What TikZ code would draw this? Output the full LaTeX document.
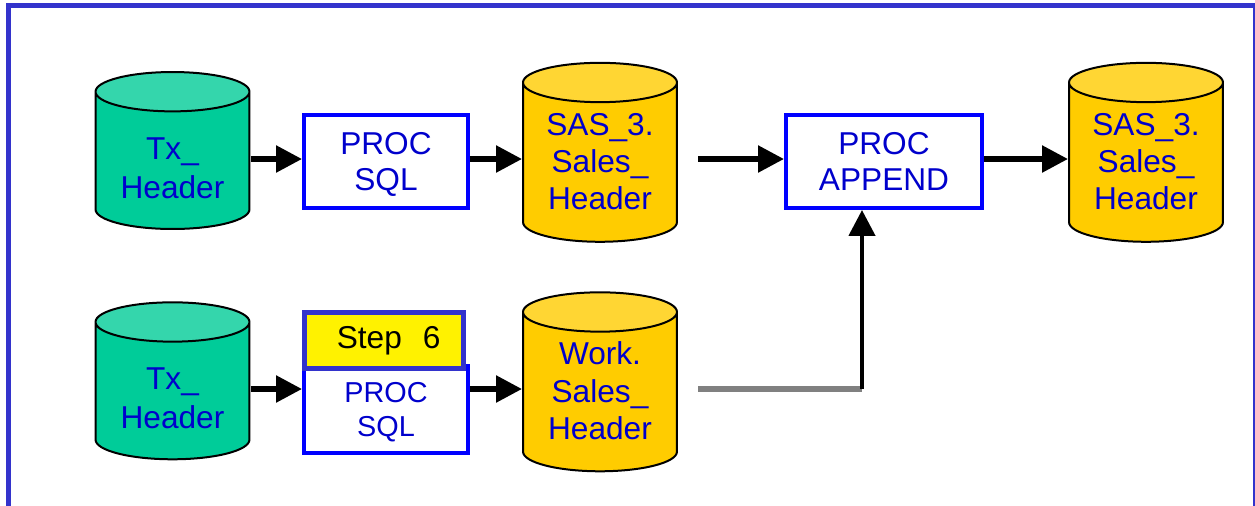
\documentclass[tikz,border=0pt]{standalone}
\usepackage{fontspec}
\setmainfont{Liberation Sans}
\usepackage{xcolor}
\usepackage{tikz}
\usetikzlibrary{shapes.geometric, arrows.meta, positioning}
\definecolor{frameblue}{RGB}{51,51,204}
\definecolor{boxblue}{RGB}{0,0,255}
\definecolor{textblue}{RGB}{0,0,204}
\definecolor{tealbody}{RGB}{0,204,153}
\definecolor{tealtop}{RGB}{52,214,172}
\definecolor{goldbody}{RGB}{255,204,0}
\definecolor{goldtop}{RGB}{255,214,51}
% the cap size follows the text width, so keep one even when empty
\tikzstyle{srcdb} = [cylinder, shape border rotate=90, aspect=0.34, text width=2.08cm, draw=black, line width=0.04cm, cylinder uses custom fill, cylinder body fill=tealbody, cylinder end fill=tealtop, minimum width=3.08cm, minimum height=3.14cm, anchor=shape center]
\tikzstyle{sasdb} = [srcdb, cylinder body fill=goldbody, cylinder end fill=goldtop, minimum height=3.58cm]
\tikzstyle{dbtext} = [inner sep=0pt, text=textblue, align=center, font=\fontsize{18}{22.3}\selectfont]
\tikzstyle{sastext} = [dbtext, font=\fontsize{18}{21.3}\selectfont]
\tikzstyle{proc} = [rectangle, draw=boxblue, line width=0.08cm, fill=white, minimum width=3.28cm, minimum height=1.86cm, text=textblue, align=center, text depth=0pt, font=\fontsize{18}{20.8}\selectfont]
\tikzstyle{steptag} = [rectangle, draw=frameblue, line width=0.1cm, fill=yellow, minimum width=3.18cm, minimum height=1.12cm, font=\fontsize{18}{20}\selectfont]
\tikzstyle{arrow} = [line width=0.11cm, -{Triangle[length=0.52cm,width=0.52cm]}]

\begin{document}
\begin{tikzpicture}[x=0.02cm, y=-0.02cm]
	\useasboundingbox (0,0) rectangle (1255,505);
	% outer frame, runs off the bottom
	\draw [frameblue, line width=0.1cm] (8.5,560) -- (8.5,5.5) -- (1255,5.5) -- (1255,560);

	\coordinate (upper) at (0,159);
	\coordinate (lower) at (0,389);
	\coordinate (join) at (862,389);

	% top row
	\node (tx1) [srcdb] at (172.5,150.5) {};
	\node (tx1-label) [dbtext, below=0.35cm of tx1.shape center, anchor=center] {Tx\_\\Header};
	\node (sql1) [proc] at (386,161.5) {PROC\\SQL};
	\node (sas1) [sasdb] at (600,152.3) {};
	\node (sas1-label) [sastext, below=0.186cm of sas1.shape center, anchor=center] {SAS\_3.\\Sales\_\\Header};
	\node (app) [proc, minimum width=3.92cm] at (884,161.5) {PROC\\APPEND};
	\node (sas2) [sasdb] at (1146,152.3) {};
	\node (sas2-label) [sastext, below=0.186cm of sas2.shape center, anchor=center] {SAS\_3.\\Sales\_\\Header};

	% bottom row
	\node (tx2) [srcdb] at (172.5,380.8) {};
	\node (tx2-label) [dbtext, below=0.35cm of tx2.shape center, anchor=center] {Tx\_\\Header};
	\node (sql2) [proc, minimum height=1.74cm, font=\fontsize{16.4}{19.3}\selectfont] at (386,409.5) {PROC\\SQL};
	\node (step) [steptag] at (383.7,340.3) {\hspace{0.2cm}Step\hspace{12pt}6};
	\node (work) [sasdb] at (600,381.8) {};
	\node (work-label) [sastext, below=0.182cm of work.shape center, anchor=center] {Work.\\Sales\_\\Header};

	\draw [arrow] (tx1.east |- upper) -- (sql1.west |- upper);
	\draw [arrow] (sql1.east |- upper) -- (sas1.west |- upper);
	\draw [arrow] ([xshift=0.4cm]sas1.east |- upper) -- (app.west |- upper);
	\draw [arrow] (app.east |- upper) -- (sas2.west |- upper);
	\draw [arrow] (tx2.east |- lower) -- (sql2.west |- lower);
	\draw [arrow] (sql2.east |- lower) -- (work.west |- lower);
	\draw [gray, line width=0.11cm] ([xshift=0.4cm]work.east |- lower) -- (join);
	\draw [arrow, line width=0.09cm] (join) -- (join |- app.south);
\end{tikzpicture}
\end{document}
